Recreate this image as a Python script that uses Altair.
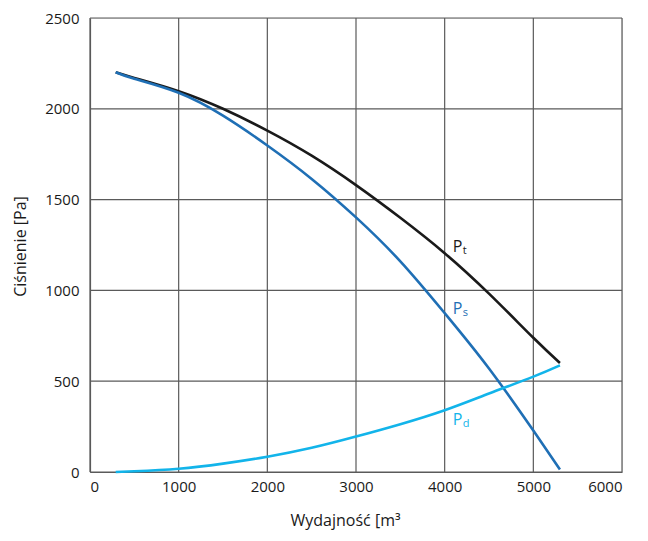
import altair as alt
import pandas as pd

flow = [290, 500, 1000, 1500, 2000, 2500, 3000, 3500, 4000, 4500, 5000, 5300]
p_total = [2201, 2170, 2097, 2000, 1880, 1742, 1580, 1400, 1205, 982, 739, 600]
p_static = [2201, 2165, 2088, 1962, 1798, 1614, 1402, 1160, 875, 570, 228, 14]
p_dynamic = [0, 4, 18, 46, 84, 133, 195, 263, 340, 432, 525, 587]

series_names = ["Pt", "Ps", "Pd"]
series_colors = ["#1a1a1a", "#1f6fb5", "#12b4ea"]

x_ticks = [0, 1000, 2000, 3000, 4000, 5000, 6000]
y_ticks = [0, 500, 1000, 1500, 2000, 2500]

label_x = [4090, 4090, 4090]
label_y = [1239, 899, 285]
label_main = ["P", "P", "P"]
label_sub = ["t", "s", "d"]

rows = []
for name, vals in zip(series_names, [p_total, p_static, p_dynamic]):
    for i, (f, v) in enumerate(zip(flow, vals)):
        rows.append({"series": name, "flow": f, "p": v, "order": i})
df = pd.DataFrame(rows)

lab = pd.DataFrame({"series": series_names, "flow": label_x, "p": label_y,
                    "main": label_main, "sub": label_sub})
xg = pd.DataFrame({"flow": x_ticks})
yg = pd.DataFrame({"p": y_ticks})

FONT = "Open Sans"
GRID = "#5a5a5a"
TXT = "#1a1a1a"

xscale = alt.Scale(domain=[0, 6000], nice=False)
yscale = alt.Scale(domain=[0, 2500], nice=False)
cscale = alt.Scale(domain=series_names, range=series_colors)

x_axis = alt.Axis(values=x_ticks, format="d", title="Wydajność [m³",
                  grid=False, ticks=False, labelPadding=7, labelFontSize=15,
                  labelFont=FONT, titleFont=FONT, labelColor=TXT, titleColor=TXT,
                  domainColor=GRID, domainWidth=1.2,
                  titleFontSize=16, titleFontWeight="normal", titleX=255, titleY=48,
                  titleBaseline="middle")
y_axis = alt.Axis(values=y_ticks, format="d", title="Ciśnienie [Pa]",
                  grid=False, ticks=False, labelPadding=11, labelFontSize=15,
                  labelFont=FONT, titleFont=FONT, labelColor=TXT, titleColor=TXT,
                  domainColor=GRID, domainWidth=1.2,
                  titleFontSize=16, titleFontWeight="normal", titleX=-70, titleY=228,
                  titleAngle=-90, titleBaseline="middle", titleAlign="center")

vgrid = alt.Chart(xg).mark_rule(color=GRID, strokeWidth=1.2).encode(
    x=alt.X("flow:Q", scale=xscale, axis=x_axis)
)
hgrid = alt.Chart(yg).mark_rule(color=GRID, strokeWidth=1.2).encode(
    y=alt.Y("p:Q", scale=yscale, axis=y_axis)
)

lines = alt.Chart(df).mark_line(strokeWidth=2.6, interpolate="natural").encode(
    x=alt.X("flow:Q", scale=xscale, axis=x_axis),
    y=alt.Y("p:Q", scale=yscale, axis=y_axis),
    color=alt.Color("series:N", scale=cscale, legend=None),
    detail="series:N",
    order="order:Q",
)

main_txt = alt.Chart(lab).mark_text(align="left", baseline="middle", fontSize=16, font=FONT).encode(
    x=alt.X("flow:Q", scale=xscale),
    y=alt.Y("p:Q", scale=yscale),
    text="main:N",
    color=alt.Color("series:N", scale=cscale, legend=None),
)
sub_txt = alt.Chart(lab).mark_text(align="left", baseline="middle", fontSize=11, font=FONT,
                                   dx=10, dy=4).encode(
    x=alt.X("flow:Q", scale=xscale),
    y=alt.Y("p:Q", scale=yscale),
    text="sub:N",
    color=alt.Color("series:N", scale=cscale, legend=None),
)

chart = alt.layer(vgrid, hgrid, lines, main_txt, sub_txt).properties(
    width=532, height=454,
    autosize=alt.AutoSizeParams(type="none"),
    padding={"left": 82, "top": 10, "right": 18, "bottom": 61},
).configure_view(stroke=GRID, strokeWidth=1.2).configure(background="white")

chart.save("out.html", embed_options={"renderer": "svg", "actions": False})
